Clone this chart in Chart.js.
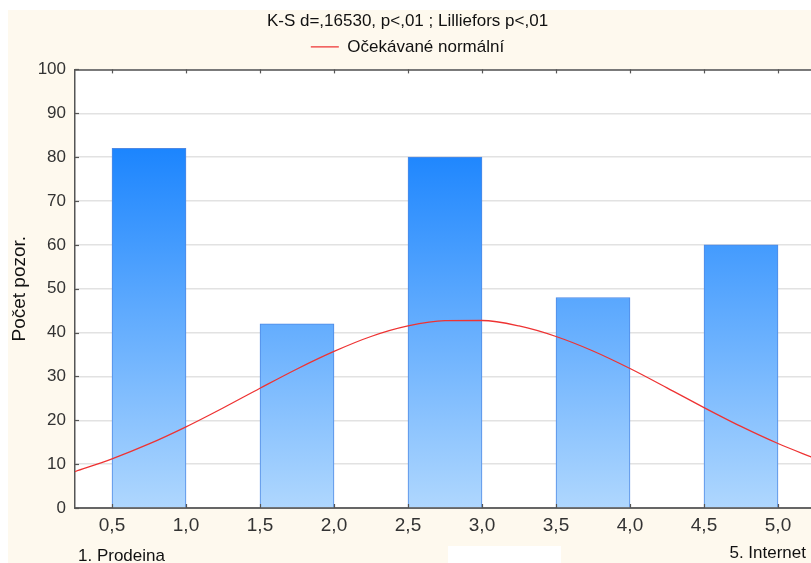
<!DOCTYPE html>
<html><head><meta charset="utf-8">
<script src="https://cdn.jsdelivr.net/npm/chart.js@4/dist/chart.umd.min.js"></script>
<style>html,body{margin:0;padding:0;overflow:hidden;background:#fff;width:811px;height:563px}canvas{display:block}</style>
</head><body>
<canvas id="c" width="830" height="563"></canvas>
<script>
const binLower = [0.5, 1.5, 2.5, 3.5, 4.5];
const binUpper = [1.0, 2.0, 3.0, 4.0, 5.0];
const counts = [82, 42, 80, 48, 60];
const curveX = [0.25, 0.5, 0.75, 1.0, 1.25, 1.5, 1.75, 2.0, 2.25, 2.5, 2.75, 3.0, 3.25, 3.5, 3.75, 4.0, 4.25, 4.5, 4.75, 5.0, 5.25];
const curveY = [8.3, 11.2, 14.6, 18.5, 22.8, 27.3, 31.7, 35.7, 39.1, 41.5, 42.7, 42.75, 41.5, 39.1, 35.8, 31.8, 27.4, 22.9, 18.6, 14.7, 11.3];
const xTicks = [0.5, 1.0, 1.5, 2.0, 2.5, 3.0, 3.5, 4.0, 4.5, 5.0];
const yTicks = [0, 10, 20, 30, 40, 50, 60, 70, 80, 90, 100];
const titleText = "K-S d=,16530, p<,01 ; Lilliefors p<,01";
const legendText = "Očekávané normální";
const yTitle = "Počet pozor.";
const leftNote = "1. Prodeina";
const rightNote = "5. Internet";

Chart.defaults.font.family = "'Liberation Sans', Arial, sans-serif";
Chart.defaults.color = "#333";

const barData = counts.map((v, i) => ({x: (binLower[i] + binUpper[i]) / 2, y: v}));
const lineData = curveX.map((x, i) => ({x: x, y: curveY[i]}));

const decor = {
  id: 'decor',
  beforeDraw(chart) {
    const ctx = chart.ctx, a = chart.chartArea;
    ctx.save();
    ctx.fillStyle = '#ffffff';
    ctx.fillRect(0, 0, chart.width, chart.height);
    ctx.fillStyle = '#fef9ee';
    ctx.fillRect(8, 10, chart.width - 8, chart.height - 10);
    ctx.fillStyle = '#ffffff';
    ctx.fillRect(448, 546, 113, 20);
    ctx.fillRect(a.left, a.top, a.right - a.left, a.bottom - a.top);
    ctx.restore();
  },
  afterDatasetsDraw(chart) {
    const ctx = chart.ctx, a = chart.chartArea;
    const xs = chart.scales.x, ys = chart.scales.y;
    ctx.save();
    ctx.strokeStyle = '#555';
    ctx.lineWidth = 1.5;
    ctx.beginPath();
    ctx.moveTo(a.left, a.top + 0.5);
    ctx.lineTo(a.right, a.top + 0.5);
    ctx.stroke();
    ctx.lineWidth = 1.2;
    xTicks.forEach(v => {
      const px = Math.round(xs.getPixelForValue(v)) + 0.5;
      ctx.beginPath(); ctx.moveTo(px, a.top); ctx.lineTo(px, a.top + 4); ctx.stroke();
      ctx.beginPath(); ctx.moveTo(px, a.bottom); ctx.lineTo(px, a.bottom - 4); ctx.stroke();
    });
    yTicks.forEach(v => {
      const py = Math.round(ys.getPixelForValue(v)) + 0.5;
      ctx.beginPath(); ctx.moveTo(a.left, py); ctx.lineTo(a.left + 4, py); ctx.stroke();
    });
    ctx.restore();
  },
  afterDraw(chart) {
    const ctx = chart.ctx;
    ctx.save();
    ctx.fillStyle = '#111';
    ctx.font = "17px 'Liberation Sans', Arial, sans-serif";
    ctx.textBaseline = 'middle';
    ctx.textAlign = 'left';
    ctx.fillText(leftNote, 78, 556);
    ctx.textAlign = 'right';
    ctx.fillText(rightNote, 806, 553);
    ctx.restore();
  }
};

new Chart(document.getElementById('c'), {
  data: {
    datasets: [
      {
        type: 'line',
        label: legendText,
        data: lineData,
        borderColor: '#ee3333',
        backgroundColor: '#ee3333',
        borderWidth: 1.3,
        pointRadius: 0,
        cubicInterpolationMode: 'monotone',
        xAxisID: 'x',
        order: 0
      },
      {
        type: 'bar',
        label: 'bars',
        data: barData,
        backgroundColor(ctx) {
          const ch = ctx.chart, a = ch.chartArea;
          if (!a) return '#5aa8fe';
          const ys = ch.scales.y;
          const g = ch.ctx.createLinearGradient(0, ys.getPixelForValue(82), 0, ys.getPixelForValue(0));
          g.addColorStop(0, '#1c85fe');
          g.addColorStop(1, '#afd7fe');
          return g;
        },
        borderColor: '#4e89e4',
        borderWidth: 1,
        categoryPercentage: 1,
        barPercentage: 1,
        xAxisID: 'x',
        order: 1
      }
    ]
  },
  options: {
    responsive: false,
    animation: false,
    devicePixelRatio: 1,
    layout: {padding: {top: 6, right: 15, left: 0, bottom: 0}},
    plugins: {
      title: {
        display: true,
        text: titleText,
        color: '#111',
        font: {size: 17, weight: 'normal'},
        padding: {top: 5, bottom: 1}
      },
      legend: {
        display: true,
        labels: {
          filter: item => item.text === legendText,
          usePointStyle: true,
          pointStyle: 'line',
          pointStyleWidth: 28,
          color: '#111',
          font: {size: 17},
          padding: 6
        }
      },
      tooltip: {enabled: false}
    },
    scales: {
      x: {
        type: 'linear',
        min: 0.25,
        max: 5.25,
        offset: false,
        afterBuildTicks(scale) { scale.ticks = xTicks.map(v => ({value: v})); },
        afterFit(scale) { scale.height = 55; },
        grid: {display: false, drawTicks: false, offset: false},
        border: {display: true, color: '#666', width: 2},
        ticks: {
          color: '#333',
          font: {size: 19},
          padding: 6,
          maxRotation: 0,
          autoSkip: false,
          callback: v => v.toFixed(1).replace('.', ',')
        }
      },
      xTop: {
        type: 'linear',
        position: 'top',
        min: 0.25,
        max: 5.25,
        display: true,
        afterFit(scale) { scale.height = 4; },
        grid: {display: false, drawTicks: false},
        border: {display: false},
        ticks: {display: false}
      },
      y: {
        min: 0,
        max: 100,
        afterBuildTicks(scale) { scale.ticks = yTicks.map(v => ({value: v})); },
        afterFit(scale) { scale.width = 75; },
        grid: {color: '#e2e2e2', lineWidth: 1.5, drawTicks: false},
        border: {display: true, color: '#555', width: 1.5},
        ticks: {color: '#333', font: {size: 17}, padding: 9},
        title: {
          display: true,
          text: yTitle,
          color: '#111',
          font: {size: 19},
          padding: {top: 8, bottom: 0}
        }
      }
    }
  },
  plugins: [decor]
});
</script>
</body></html>
